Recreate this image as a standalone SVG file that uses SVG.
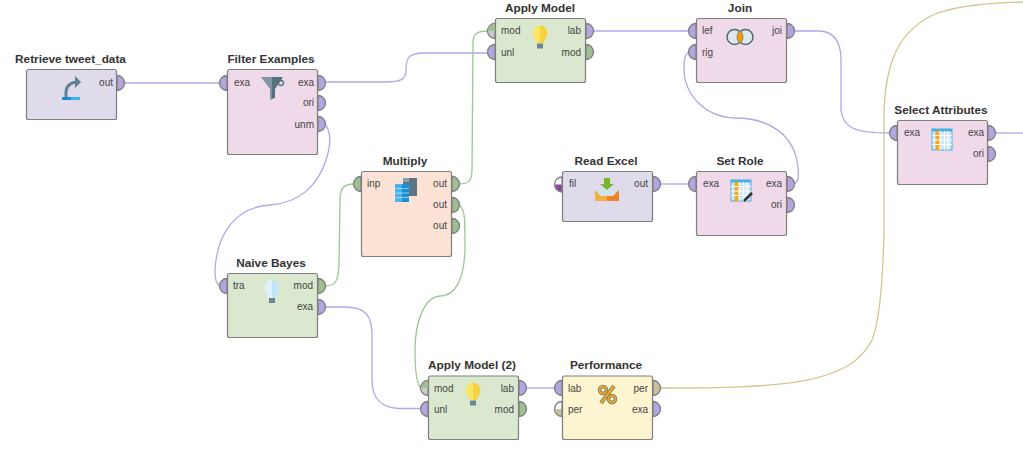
<svg xmlns="http://www.w3.org/2000/svg" width="1023" height="470" viewBox="0 0 1023 470">
<style>
text{font-family:"Liberation Sans",Arial,sans-serif;fill:#333}
.t{font-size:11.800px;font-weight:700;text-anchor:middle}
.p{font-size:10px;fill:#444}
.e{text-anchor:end}
.b{stroke:#7f7f7f;stroke-width:1.200}
.port{stroke:#7f7f7f;stroke-width:1.300}
.pur{fill:#b3a6e0}.grn{fill:#9dbf92}.tan{fill:#c9c19a}
.c{fill:none;stroke-width:1.300}
.cp{stroke:#b3a6e8}.cg{stroke:#9cc796}.ct{stroke:#cfc88f}
.data{fill:#dfdbea}.blend{fill:#f0d9e8}.model{fill:#dbe8d0}.util{fill:#fde3d6}.perf{fill:#fdf5d0}
</style>
<defs>
<path id="po" d="M0-7.500A7.500 7.500 0 0 1 0 7.500Z"/>
<path id="pi" d="M0-7.500A7.500 7.500 0 0 0 0 7.500Z"/>
<g id="bulb">
<path d="M0-11.500A7.500 7.500 0 0 0-7.500-4C-7.500 0-4.500 2-4 6H0Z" fill="#f8e56a"/>
<path d="M0-11.500A7.500 7.500 0 0 1 7.500-4C7.500 0 4.500 2 4 6H0Z" fill="#f6d23f"/>
<rect x="-3" y="6.500" width="6" height="5" fill="#6f8593"/>
</g>
<g id="table">
<rect x="0" y="0" width="20" height="21" fill="#cfe8f8" stroke="#45b0e8" stroke-width="1"/>
<rect x="0" y="0" width="20" height="2.500" fill="#45b0e8"/>
<rect x="3.500" y="2" width="4.500" height="19" fill="#f6a81c"/>
<path d="M0 6.500H20M0 11H20M0 15.500H20M8 2V21M12.500 2V21M16 2V21" stroke="#fff" stroke-width="1" fill="none"/>
</g>
</defs>

<g id="connectors">
<path class="c cp" d="M124 83H220"/>
<path class="c cp" d="M325 82H385C402 82 406 79 406 70C406 57 409 53 425 53H488"/>
<path class="c cp" d="M325 124C331 132 331 145 326 160C318 185 300 203 270 205C235 207 216 235 215 272C215 280 216 284 220 286"/>
<path class="c cg" d="M325 286C336 286 338 281 339 265L340 200C340 188 344 184 354 184"/>
<path class="c cg" d="M459 184C468 184 472 181 472 170L473 42C473 34 477 31 488 31"/>
<path class="c cg" d="M459 205C465 208 465 220 465 245C465 280 455 296 440 296C425 297 415 320 415 350C415 375 417 385 421 388"/>
<path class="c cp" d="M325 307H345C365 307 372 315 372 335V380C372 400 382 408 400 408.500H421"/>
<path class="c cp" d="M526 388H555"/>
<path class="c cp" d="M593 31H689"/>
<path class="c cp" d="M794 31H820C836 32 841 45 841 60V110C843 128 855 133 889 133"/>
<path class="c cp" d="M995 133H1023"/>
<path class="c cp" d="M660 184H689"/>
<path class="c cp" d="M794 184C798 182 799 178 798 168C795 135 770 118 735 118C705 117 684 95 684 68C684 58 686 53 689 52"/>
<path class="c ct" d="M660 388C780 388 850 385 872 340C880 320 883 280 884 230V115C885 60 900 30 935 14C960 5 990 3 1023 2"/>
</g>

<g id="retrieve">
<text class="t" x="70.500" y="63">Retrieve tweet_data</text>
<rect class="b data" x="26.500" y="69.500" width="90" height="50" rx="2"/>
<text class="p e" x="113" y="86">out</text>
<use href="#po" x="117" y="83" class="port pur"/>
<path d="M66 98V93C66 86 70 82 79 82" fill="none" stroke="#5f8293" stroke-width="3"/>
<path d="M75 76L81 82L75 88Z" fill="#5f8293"/>
<rect x="62" y="97" width="9" height="3" fill="#1b8fd6"/><rect x="71" y="97" width="9" height="3" fill="#3db5ee"/>
</g>

<g id="filter">
<text class="t" x="271" y="63">Filter Examples</text>
<rect class="b blend" x="227.500" y="69.500" width="90" height="85" rx="2"/>
<text class="p" x="234" y="86">exa</text>
<text class="p e" x="314" y="86">exa</text>
<text class="p e" x="314" y="106">ori</text>
<text class="p e" x="314" y="128">unm</text>
<use href="#pi" x="227" y="83" class="port pur"/>
<use href="#po" x="318" y="83" class="port pur"/>
<use href="#po" x="318" y="103" class="port pur"/>
<use href="#po" x="318" y="124" class="port pur"/>
<path d="M261 77H272V99L270 100V89Z" fill="#7f97a3"/>
<path d="M272 77H283L275 89V98L272 99Z" fill="#55707f"/>
<circle cx="281" cy="83" r="2.500" fill="none" stroke="#55707f" stroke-width="1.300"/>
</g>

<g id="apply1">
<text class="t" x="540" y="12">Apply Model</text>
<rect class="b model" x="495.500" y="18.500" width="90" height="64" rx="2"/>
<text class="p" x="501" y="34">mod</text>
<text class="p" x="501" y="56">unl</text>
<text class="p e" x="581" y="34">lab</text>
<text class="p e" x="581" y="56">mod</text>
<use href="#pi" x="495" y="31" class="port" fill="#ccc"/>
<path d="M495 24A7 7 0 0 0 488 31H495Z" fill="#9dbf92"/>
<use href="#pi" x="495" y="52" class="port pur"/>
<use href="#po" x="586" y="31" class="port pur"/>
<use href="#po" x="586" y="52" class="port grn"/>
<use href="#bulb" x="540" y="37"/>
</g>

<g id="join">
<text class="t" x="740" y="12">Join</text>
<rect class="b blend" x="696.500" y="18.500" width="90" height="64" rx="2"/>
<text class="p" x="702" y="34">lef</text>
<text class="p" x="702" y="56">rig</text>
<text class="p e" x="782" y="34">joi</text>
<use href="#pi" x="696" y="31" class="port pur"/>
<use href="#pi" x="696" y="52" class="port pur"/>
<use href="#po" x="787" y="31" class="port pur"/>
<circle cx="734.500" cy="37" r="7.500" fill="#dfe8ea" stroke="#4d6a78" stroke-width="1.500"/>
<circle cx="745.500" cy="37" r="7.500" fill="#dfe8ea" stroke="#4d6a78" stroke-width="1.500"/>
<path d="M740 30.500C744 34 744 40 740 43.500C736 40 736 34 740 30.500Z" fill="#f49d0c" stroke="#4d6a78" stroke-width=".6"/>
</g>

<g id="select">
<text class="t" x="941" y="114">Select Attributes</text>
<rect class="b blend" x="897.500" y="120.500" width="90" height="64" rx="2"/>
<text class="p" x="904" y="136">exa</text>
<text class="p e" x="984" y="136">exa</text>
<text class="p e" x="984" y="157">ori</text>
<use href="#pi" x="897" y="133" class="port pur"/>
<use href="#po" x="988" y="133" class="port pur"/>
<use href="#po" x="988" y="154" class="port pur"/>
<use href="#table" x="932" y="129"/>
</g>

<g id="multiply">
<text class="t" x="405" y="165">Multiply</text>
<rect class="b util" x="361.500" y="171.500" width="90" height="85" rx="2"/>
<text class="p" x="367" y="187">inp</text>
<text class="p e" x="447" y="187">out</text>
<text class="p e" x="447" y="208">out</text>
<text class="p e" x="447" y="229">out</text>
<use href="#pi" x="361" y="184" class="port grn"/>
<use href="#po" x="452" y="184" class="port grn"/>
<use href="#po" x="452" y="205" class="port grn"/>
<use href="#po" x="452" y="226" class="port grn"/>
<rect x="403" y="178" width="14" height="18" fill="#5d7686"/>
<rect x="403" y="178" width="6" height="4" fill="#8ba0ac"/>
<rect x="395" y="184" width="7" height="18" fill="#45b4ef"/>
<rect x="402" y="184" width="7" height="18" fill="#1b8fd6"/>
<path d="M395 188.500H409M395 193H409M395 197.500H409" stroke="#bfe4f8" stroke-width=".7"/>
</g>

<g id="readexcel">
<text class="t" x="606" y="165">Read Excel</text>
<rect class="b data" x="562.500" y="171.500" width="90" height="50" rx="2"/>
<text class="p" x="569" y="187">fil</text>
<text class="p e" x="648" y="187">out</text>
<path d="M562 177.500A7 7 0 0 0 555 184.500H562Z" fill="#fff"/>
<path d="M555 184.500A7 7 0 0 0 562 191.500V184.500Z" fill="#8e3fa8"/>
<use href="#pi" x="562" y="184.500" class="port" fill="none"/>
<use href="#po" x="653" y="184" class="port pur"/>
<path d="M595 190H607V201H595Z" fill="#f4b042"/><path d="M607 190H619V201H607Z" fill="#ee8427"/>
<path d="M595 190L601 196H613L619 190Z" fill="#cfe3ea"/>
<path d="M604 178H610V184H614L607 190L600 184H604Z" fill="#74b72e"/>
</g>

<g id="setrole">
<text class="t" x="740" y="165">Set Role</text>
<rect class="b blend" x="696.500" y="171.500" width="90" height="64" rx="2"/>
<text class="p" x="703" y="187">exa</text>
<text class="p e" x="782" y="187">exa</text>
<text class="p e" x="782" y="208">ori</text>
<use href="#pi" x="696" y="184" class="port pur"/>
<use href="#po" x="787" y="184" class="port pur"/>
<use href="#po" x="787" y="205" class="port pur"/>
<use href="#table" x="731" y="180"/>
<path d="M744 201L752 193" stroke="#333" stroke-width="2.500"/>
</g>

<g id="naive">
<text class="t" x="271" y="267">Naive Bayes</text>
<rect class="b model" x="227.500" y="273.500" width="90" height="64" rx="2"/>
<text class="p" x="233" y="289">tra</text>
<text class="p e" x="313" y="289">mod</text>
<text class="p e" x="313" y="310">exa</text>
<use href="#pi" x="227" y="286" class="port pur"/>
<use href="#po" x="318" y="286" class="port grn"/>
<use href="#po" x="318" y="307" class="port pur"/>
<path d="M272 280A7.500 7.500 0 0 0 264.500 287.500C264.500 291.500 267.500 293.500 268 298H272Z" fill="#e0f1fb"/>
<path d="M272 280A7.500 7.500 0 0 1 279.500 287.500C279.500 291.500 276.500 293.500 276 298H272Z" fill="#c2e5f8"/>
<rect x="269" y="298" width="6" height="5" fill="#6f8593"/>
</g>

<g id="apply2">
<text class="t" x="472" y="369">Apply Model (2)</text>
<rect class="b model" x="428.500" y="376" width="90" height="63.500" rx="2"/>
<text class="p" x="434" y="392">mod</text>
<text class="p" x="434" y="413">unl</text>
<text class="p e" x="514" y="392">lab</text>
<text class="p e" x="514" y="413">mod</text>
<use href="#pi" x="428" y="388" class="port" fill="#ccc"/>
<path d="M428 381A7 7 0 0 0 421 388H428Z" fill="#9dbf92"/>
<use href="#pi" x="428" y="409" class="port pur"/>
<use href="#po" x="519" y="388" class="port pur"/>
<use href="#po" x="519" y="409" class="port grn"/>
<use href="#bulb" x="473" y="394"/>
</g>

<g id="performance">
<text class="t" x="606" y="369">Performance</text>
<rect class="b perf" x="562.500" y="376" width="90" height="63.500" rx="2"/>
<text class="p" x="568" y="392">lab</text>
<text class="p" x="568" y="413">per</text>
<text class="p e" x="648" y="392">per</text>
<text class="p e" x="648" y="413">exa</text>
<use href="#pi" x="562" y="388" class="port pur"/>
<path d="M562 402A7 7 0 0 0 555 409H562Z" fill="#fff"/>
<path d="M555 409A7 7 0 0 0 562 416V409Z" fill="#c9c19a"/>
<use href="#pi" x="562" y="409" class="port" fill="none"/>
<use href="#po" x="653" y="388" class="port tan"/>
<use href="#po" x="653" y="409" class="port pur"/>
<path d="M614 386L601 403" stroke="#5f7886" stroke-width="4"/>
<path d="M614 386L601 403" stroke="#f2a81d" stroke-width="2.500"/>
<circle cx="603" cy="390" r="3.500" fill="none" stroke="#5f7886" stroke-width="3.500"/>
<circle cx="603" cy="390" r="3.500" fill="none" stroke="#f2a81d" stroke-width="2"/>
<circle cx="612" cy="399" r="3.500" fill="none" stroke="#5f7886" stroke-width="3.500"/>
<circle cx="612" cy="399" r="3.500" fill="none" stroke="#f2a81d" stroke-width="2"/>
</g>
</svg>
